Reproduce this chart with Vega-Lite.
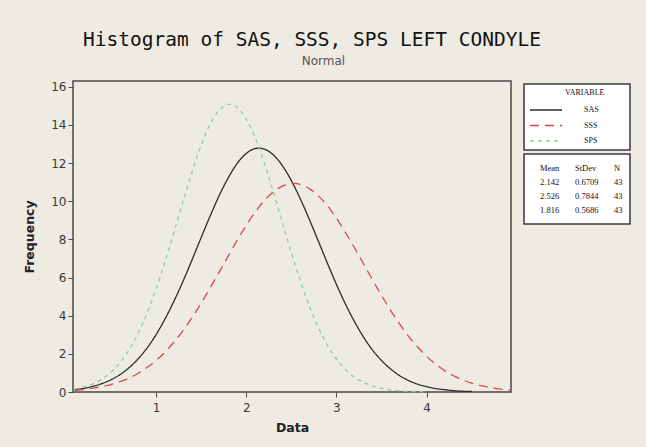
{
  "$schema": "https://vega.github.io/schema/vega-lite/v6.json",
  "width": 438,
  "height": 311,
  "autosize": {"type": "none"},
  "padding": {"left": 73, "top": 81, "right": 135, "bottom": 55},
  "background": "#edebe2",
  "title": {
    "text": "Histogram of SAS, SSS, SPS LEFT CONDYLE",
    "subtitle": "\u200b\u00a0\u00a0\u00a0\u00a0\u00a0\u00a0Normal",
    "anchor": "middle",
    "frame": "group",
    "dx": 20,
    "offset": 13,
    "font": "DejaVu Sans Mono",
    "fontSize": 19.5,
    "fontWeight": "normal",
    "color": "#111",
    "subtitleFont": "DejaVu Sans",
    "subtitleFontSize": 12,
    "subtitleColor": "#555",
    "subtitlePadding": 5
  },
  "datasets": {
    "curves": [
      {"v":"SAS","x":0.1,"y":0.12},{"v":"SAS","x":0.2,"y":0.19},{"v":"SAS","x":0.3,"y":0.30},{"v":"SAS","x":0.4,"y":0.44},{"v":"SAS","x":0.5,"y":0.64},{"v":"SAS","x":0.6,"y":0.91},{"v":"SAS","x":0.7,"y":1.27},{"v":"SAS","x":0.8,"y":1.73},{"v":"SAS","x":0.9,"y":2.30},{"v":"SAS","x":1.0,"y":3.00},{"v":"SAS","x":1.1,"y":3.83},{"v":"SAS","x":1.2,"y":4.77},{"v":"SAS","x":1.3,"y":5.81},{"v":"SAS","x":1.4,"y":6.93},{"v":"SAS","x":1.5,"y":8.09},{"v":"SAS","x":1.6,"y":9.22},{"v":"SAS","x":1.7,"y":10.29},{"v":"SAS","x":1.8,"y":11.22},{"v":"SAS","x":1.9,"y":11.98},{"v":"SAS","x":2.0,"y":12.50},{"v":"SAS","x":2.1,"y":12.76},{"v":"SAS","x":2.142,"y":12.78},{"v":"SAS","x":2.2,"y":12.73},{"v":"SAS","x":2.3,"y":12.43},{"v":"SAS","x":2.4,"y":11.87},{"v":"SAS","x":2.5,"y":11.08},{"v":"SAS","x":2.6,"y":10.12},{"v":"SAS","x":2.7,"y":9.04},{"v":"SAS","x":2.8,"y":7.90},{"v":"SAS","x":2.9,"y":6.75},{"v":"SAS","x":3.0,"y":5.64},{"v":"SAS","x":3.1,"y":4.61},{"v":"SAS","x":3.2,"y":3.69},{"v":"SAS","x":3.3,"y":2.88},{"v":"SAS","x":3.4,"y":2.20},{"v":"SAS","x":3.5,"y":1.65},{"v":"SAS","x":3.6,"y":1.21},{"v":"SAS","x":3.7,"y":0.86},{"v":"SAS","x":3.8,"y":0.60},{"v":"SAS","x":3.9,"y":0.41},{"v":"SAS","x":4.0,"y":0.28},{"v":"SAS","x":4.1,"y":0.18},{"v":"SAS","x":4.2,"y":0.12},{"v":"SAS","x":4.3,"y":0.07},{"v":"SAS","x":4.4,"y":0.04},{"v":"SAS","x":4.5,"y":0.03},
      {"v":"SSS","x":0.1,"y":0.09},{"v":"SSS","x":0.2,"y":0.13},{"v":"SSS","x":0.3,"y":0.20},{"v":"SSS","x":0.4,"y":0.28},{"v":"SSS","x":0.5,"y":0.39},{"v":"SSS","x":0.6,"y":0.54},{"v":"SSS","x":0.7,"y":0.73},{"v":"SSS","x":0.8,"y":0.97},{"v":"SSS","x":0.9,"y":1.28},{"v":"SSS","x":1.0,"y":1.65},{"v":"SSS","x":1.1,"y":2.09},{"v":"SSS","x":1.2,"y":2.62},{"v":"SSS","x":1.3,"y":3.22},{"v":"SSS","x":1.4,"y":3.90},{"v":"SSS","x":1.5,"y":4.65},{"v":"SSS","x":1.6,"y":5.45},{"v":"SSS","x":1.7,"y":6.28},{"v":"SSS","x":1.8,"y":7.12},{"v":"SSS","x":1.9,"y":7.95},{"v":"SSS","x":2.0,"y":8.73},{"v":"SSS","x":2.1,"y":9.43},{"v":"SSS","x":2.2,"y":10.03},{"v":"SSS","x":2.3,"y":10.49},{"v":"SSS","x":2.4,"y":10.79},{"v":"SSS","x":2.5,"y":10.92},{"v":"SSS","x":2.526,"y":10.93},{"v":"SSS","x":2.6,"y":10.88},{"v":"SSS","x":2.7,"y":10.66},{"v":"SSS","x":2.8,"y":10.28},{"v":"SSS","x":2.9,"y":9.76},{"v":"SSS","x":3.0,"y":9.11},{"v":"SSS","x":3.1,"y":8.36},{"v":"SSS","x":3.2,"y":7.56},{"v":"SSS","x":3.3,"y":6.72},{"v":"SSS","x":3.4,"y":5.88},{"v":"SSS","x":3.5,"y":5.06},{"v":"SSS","x":3.6,"y":4.28},{"v":"SSS","x":3.7,"y":3.57},{"v":"SSS","x":3.8,"y":2.92},{"v":"SSS","x":3.9,"y":2.36},{"v":"SSS","x":4.0,"y":1.87},{"v":"SSS","x":4.1,"y":1.46},{"v":"SSS","x":4.2,"y":1.12},{"v":"SSS","x":4.3,"y":0.85},{"v":"SSS","x":4.4,"y":0.63},{"v":"SSS","x":4.5,"y":0.46},{"v":"SSS","x":4.6,"y":0.33},{"v":"SSS","x":4.7,"y":0.24},{"v":"SSS","x":4.8,"y":0.16},{"v":"SSS","x":4.9,"y":0.11},{"v":"SSS","x":4.93,"y":0.10},
      {"v":"SPS","x":0.1,"y":0.16},{"v":"SPS","x":0.2,"y":0.27},{"v":"SPS","x":0.3,"y":0.43},{"v":"SPS","x":0.4,"y":0.68},{"v":"SPS","x":0.5,"y":1.04},{"v":"SPS","x":0.6,"y":1.53},{"v":"SPS","x":0.7,"y":2.20},{"v":"SPS","x":0.8,"y":3.06},{"v":"SPS","x":0.9,"y":4.12},{"v":"SPS","x":1.0,"y":5.39},{"v":"SPS","x":1.1,"y":6.83},{"v":"SPS","x":1.2,"y":8.39},{"v":"SPS","x":1.3,"y":9.99},{"v":"SPS","x":1.4,"y":11.54},{"v":"SPS","x":1.5,"y":12.92},{"v":"SPS","x":1.6,"y":14.03},{"v":"SPS","x":1.7,"y":14.77},{"v":"SPS","x":1.8,"y":15.07},{"v":"SPS","x":1.816,"y":15.08},{"v":"SPS","x":1.9,"y":14.92},{"v":"SPS","x":2.0,"y":14.31},{"v":"SPS","x":2.1,"y":13.31},{"v":"SPS","x":2.2,"y":12.01},{"v":"SPS","x":2.3,"y":10.50},{"v":"SPS","x":2.4,"y":8.90},{"v":"SPS","x":2.5,"y":7.31},{"v":"SPS","x":2.6,"y":5.83},{"v":"SPS","x":2.7,"y":4.50},{"v":"SPS","x":2.8,"y":3.37},{"v":"SPS","x":2.9,"y":2.45},{"v":"SPS","x":3.0,"y":1.73},{"v":"SPS","x":3.1,"y":1.18},{"v":"SPS","x":3.2,"y":0.78},{"v":"SPS","x":3.3,"y":0.50},{"v":"SPS","x":3.4,"y":0.31},{"v":"SPS","x":3.5,"y":0.19},{"v":"SPS","x":3.6,"y":0.11},{"v":"SPS","x":3.7,"y":0.06},{"v":"SPS","x":3.8,"y":0.03},{"v":"SPS","x":3.9,"y":0.02},{"v":"SPS","x":4.0,"y":0.01}
    ],
    "stats": [
      {"cell":"Mean"},{"cell":"StDev"},{"cell":"N"},
      {"cell":"2.142"},{"cell":"0.6709"},{"cell":"43a"},
      {"cell":"2.526"},{"cell":"0.7844"},{"cell":"43b"},
      {"cell":"1.816"},{"cell":"0.5686"},{"cell":"43c"}
    ]
  },
  "layer": [
    {
      "data": {"name": "curves"},
      "mark": {"type": "line", "strokeWidth": 1.3, "interpolate": "monotone"},
      "encoding": {
        "x": {"field": "x", "type": "quantitative", "title": "Data",
              "scale": {"domain": [0.08, 4.935], "nice": false, "zero": false},
              "axis": {"values": [1, 2, 3, 4], "labelPadding": 5, "titlePadding": 8}},
        "y": {"field": "y", "type": "quantitative", "title": "Frequency",
              "scale": {"domain": [0, 16.3], "nice": false},
              "axis": {"values": [0, 2, 4, 6, 8, 10, 12, 14, 16], "titlePadding": 14}},
        "color": {"field": "v", "type": "nominal", "title": "VARIABLE",
                  "scale": {"domain": ["SAS", "SSS", "SPS"], "range": ["#2b2b2b", "#e0474c", "#8fd08f"]},
                  "legend": {"orient": "none", "legendX": 451, "legendY": 3,
                             "title": "\u200b\u00a0\u00a0\u00a0\u00a0\u00a0\u00a0\u00a0\u00a0\u00a0\u00a0\u00a0\u00a0\u00a0\u00a0\u00a0\u00a0\u00a0\u00a0VARIABLE",
                             "symbolType": "M-1,0H7", "symbolSize": 64, "symbolStrokeWidth": 1.3,
                             "labelOffset": 45, "rowPadding": 6.5, "titlePadding": 8, "padding": 5,
                             "labelExpr": "datum.label + '\u00a0\u00a0\u00a0\u00a0\u00a0\u00a0\u00a0\u00a0\u00a0\u00a0\u00a0\u00a0\u00a0\u200b'"}},
        "strokeDash": {"field": "v", "type": "nominal", "title": "VARIABLE",
                  "scale": {"domain": ["SAS", "SSS", "SPS"], "range": [[1, 0], [9, 6], [4, 4]]},
                  "legend": {"orient": "none", "legendX": 451, "legendY": 3,
                             "title": "\u200b\u00a0\u00a0\u00a0\u00a0\u00a0\u00a0\u00a0\u00a0\u00a0\u00a0\u00a0\u00a0\u00a0\u00a0\u00a0\u00a0\u00a0\u00a0VARIABLE",
                             "symbolType": "M-1,0H7", "symbolSize": 64, "symbolStrokeWidth": 1.3,
                             "labelOffset": 45, "rowPadding": 6.5, "titlePadding": 8, "padding": 5,
                             "labelExpr": "datum.label + '\u00a0\u00a0\u00a0\u00a0\u00a0\u00a0\u00a0\u00a0\u00a0\u00a0\u00a0\u00a0\u00a0\u200b'"}}
      }
    },
    {
      "data": {"name": "stats"},
      "mark": {"type": "point", "opacity": 0},
      "encoding": {
        "shape": {"field": "cell", "type": "nominal",
                  "scale": {"domain": ["Mean","2.142","2.526","1.816","StDev","0.6709","0.7844","0.5686","N","43a","43b","43c"]},
                  "legend": {"orient": "none", "legendX": 451, "legendY": 73,
                             "title": null,
                             "columns": 3, "columnPadding": 6, "rowPadding": 0,
                             "symbolSize": 196, "symbolOpacity": 0, "symbolStrokeWidth": 0,
                             "labelOffset": -5, "padding": 7, "labelFontSize": 8.5,
                             "labelExpr": "indexof(datum.label, '43') == 0 ? '43' : datum.label"}}
      }
    }
  ],
  "config": {
    "view": {"stroke": "#4a4a4a", "strokeWidth": 1.5, "fill": "white"},
    "axis": {
      "grid": false, "domain": false,
      "tickColor": "#4a4a4a", "tickSize": 5, "tickWidth": 1,
      "labelFont": "DejaVu Sans", "labelFontSize": 12, "labelColor": "#3a3a3a", "labelPadding": 2,
      "titleFont": "DejaVu Sans", "titleFontSize": 12.5, "titleFontWeight": "bold", "titleColor": "#222"
    },
    "legend": {
      "strokeColor": "#3a3a3a", "fillColor": "white", "strokeWidth": 1.5,
      "titleFont": "Liberation Serif", "titleFontSize": 8, "titleFontWeight": "normal", "titleColor": "#111",
      "titleAnchor": "start",
      "labelFont": "Liberation Serif", "labelFontSize": 8, "labelColor": "#111"
    }
  }
}
